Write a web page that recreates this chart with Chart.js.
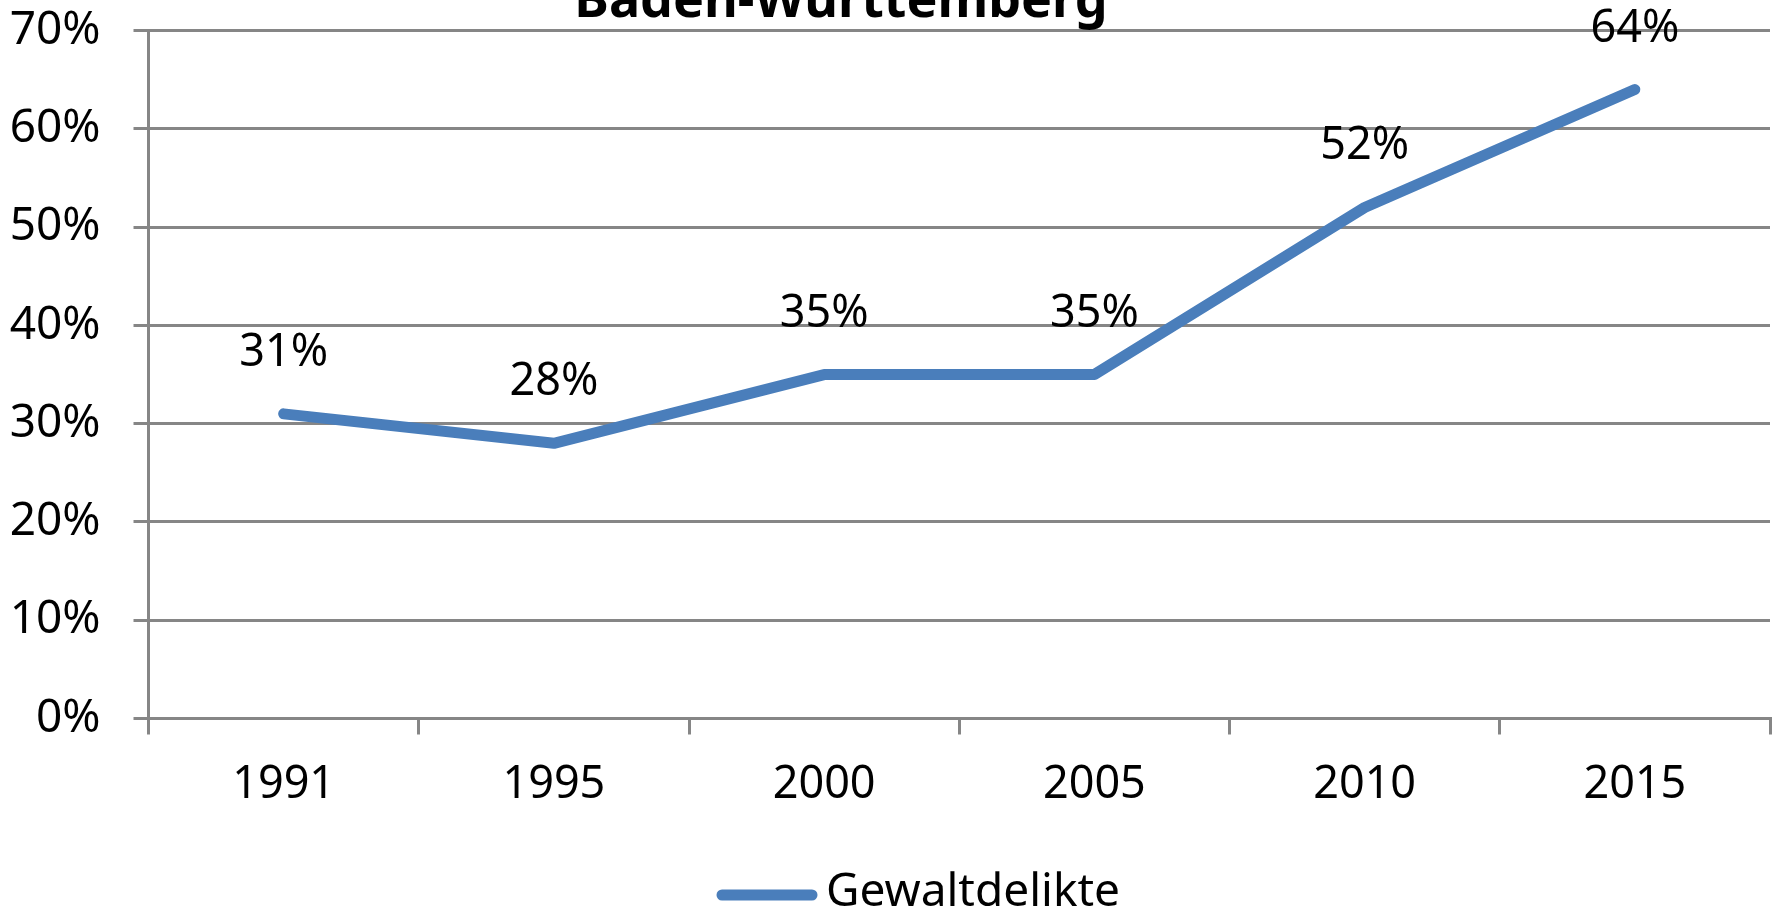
<!DOCTYPE html>
<html>
<head>
<meta charset="utf-8">
<script src="https://cdn.jsdelivr.net/npm/chart.js@4"></script>
<style>
  html, body { margin: 0; padding: 0; background: #fff; }
  #wrap { width: 1777px; height: 917px; position: relative; }
</style>
</head>
<body>
<div id="wrap"><canvas id="chart"></canvas></div>
<script>
// Werte (Anteil in %)
const years = ["1991", "1995", "2000", "2005", "2010", "2015"];
const gewaltdelikte = [31, 28, 35, 35, 52, 64];
const seriesName = "Gewaltdelikte";
const chartTitle = "Baden-Württemberg";

const FONT = '"Noto Sans", "DejaVu Sans", sans-serif';
const GRID = "#868686";
const BLUE = "#4a7ebb";

// Titel oben, vom Rand abgeschnitten wie im Original
const titlePlugin = {
	id: "cutTitle",
	afterDraw(chart) {
		const ctx = chart.ctx;
		ctx.save();
		ctx.font = "bold 52px " + FONT;
		ctx.fillStyle = "#000";
		ctx.textAlign = "center";
		ctx.textBaseline = "alphabetic";
		ctx.fillText(chartTitle, 841, 17);
		ctx.restore();
	},
};

// Legende unten (Excel-Stil: Linie mit runden Enden + Text)
const legendPlugin = {
	id: "excelLegend",
	afterDraw(chart) {
		const ctx = chart.ctx;
		const ds = chart.data.datasets[0];
		ctx.save();
		ctx.strokeStyle = ds.borderColor;
		ctx.lineWidth = ds.borderWidth;
		ctx.lineCap = "round";
		ctx.beginPath();
		ctx.moveTo(722, 895);
		ctx.lineTo(812, 895);
		ctx.stroke();
		ctx.font = "46px " + FONT;
		ctx.fillStyle = "#000";
		ctx.textAlign = "left";
		ctx.textBaseline = "middle";
		ctx.fillText(ds.label, 826, 893);
		ctx.restore();
	},
};

// Datenbeschriftungen über den Punkten
const valueLabels = {
	id: "valueLabels",
	afterDatasetsDraw(chart) {
		const ctx = chart.ctx;
		const meta = chart.getDatasetMeta(0);
		ctx.save();
		ctx.font = "45px " + FONT;
		ctx.fillStyle = "#000";
		ctx.textAlign = "center";
		ctx.textBaseline = "alphabetic";
		meta.data.forEach((pt, i) => {
			ctx.fillText(gewaltdelikte[i] + "%", pt.x, pt.y - 48);
		});
		ctx.restore();
	},
};

new Chart(document.getElementById("chart"), {
	type: "line",
	data: {
		labels: years,
		datasets: [
			{
				label: seriesName,
				data: gewaltdelikte,
				borderColor: BLUE,
				backgroundColor: BLUE,
				borderWidth: 11,
				borderCapStyle: "round",
				borderJoinStyle: "round",
				pointRadius: 0,
				pointHoverRadius: 0,
				tension: 0,
			},
		],
	},
	options: {
		responsive: true,
		maintainAspectRatio: false,
		animation: false,
		layout: { padding: { top: 30.6, right: 7, bottom: 0, left: 0 } },
		scales: {
			x: {
				offset: true,
				afterFit: (scale) => { scale.height = 198.5; },
				grid: {
					offset: true,
					drawOnChartArea: false,
					color: GRID,
					lineWidth: 3,
					tickLength: 16,
				},
				border: { display: true, color: GRID, width: 3 },
				ticks: {
					color: "#000",
					font: { family: FONT, size: 45 },
					padding: 24,
					maxRotation: 0,
				},
			},
			y: {
				min: 0,
				max: 70,
				afterFit: (scale) => {
					scale.width = 148.5;
					// Label-Überstand nicht als Abstand oben reservieren
					scale.paddingTop = 0;
					scale.paddingBottom = 0;
				},
				grid: {
					color: GRID,
					lineWidth: 3,
					tickLength: 15,
				},
				border: { display: true, color: GRID, width: 3 },
				ticks: {
					stepSize: 10,
					color: "#000",
					font: { family: FONT, size: 46 },
					padding: 33,
					callback: (v) => v + "%",
				},
			},
		},
		plugins: {
			title: { display: false },
			tooltip: { enabled: false },
			legend: { display: false },
		},
	},
	plugins: [valueLabels, titlePlugin, legendPlugin],
});
</script>
</body>
</html>
